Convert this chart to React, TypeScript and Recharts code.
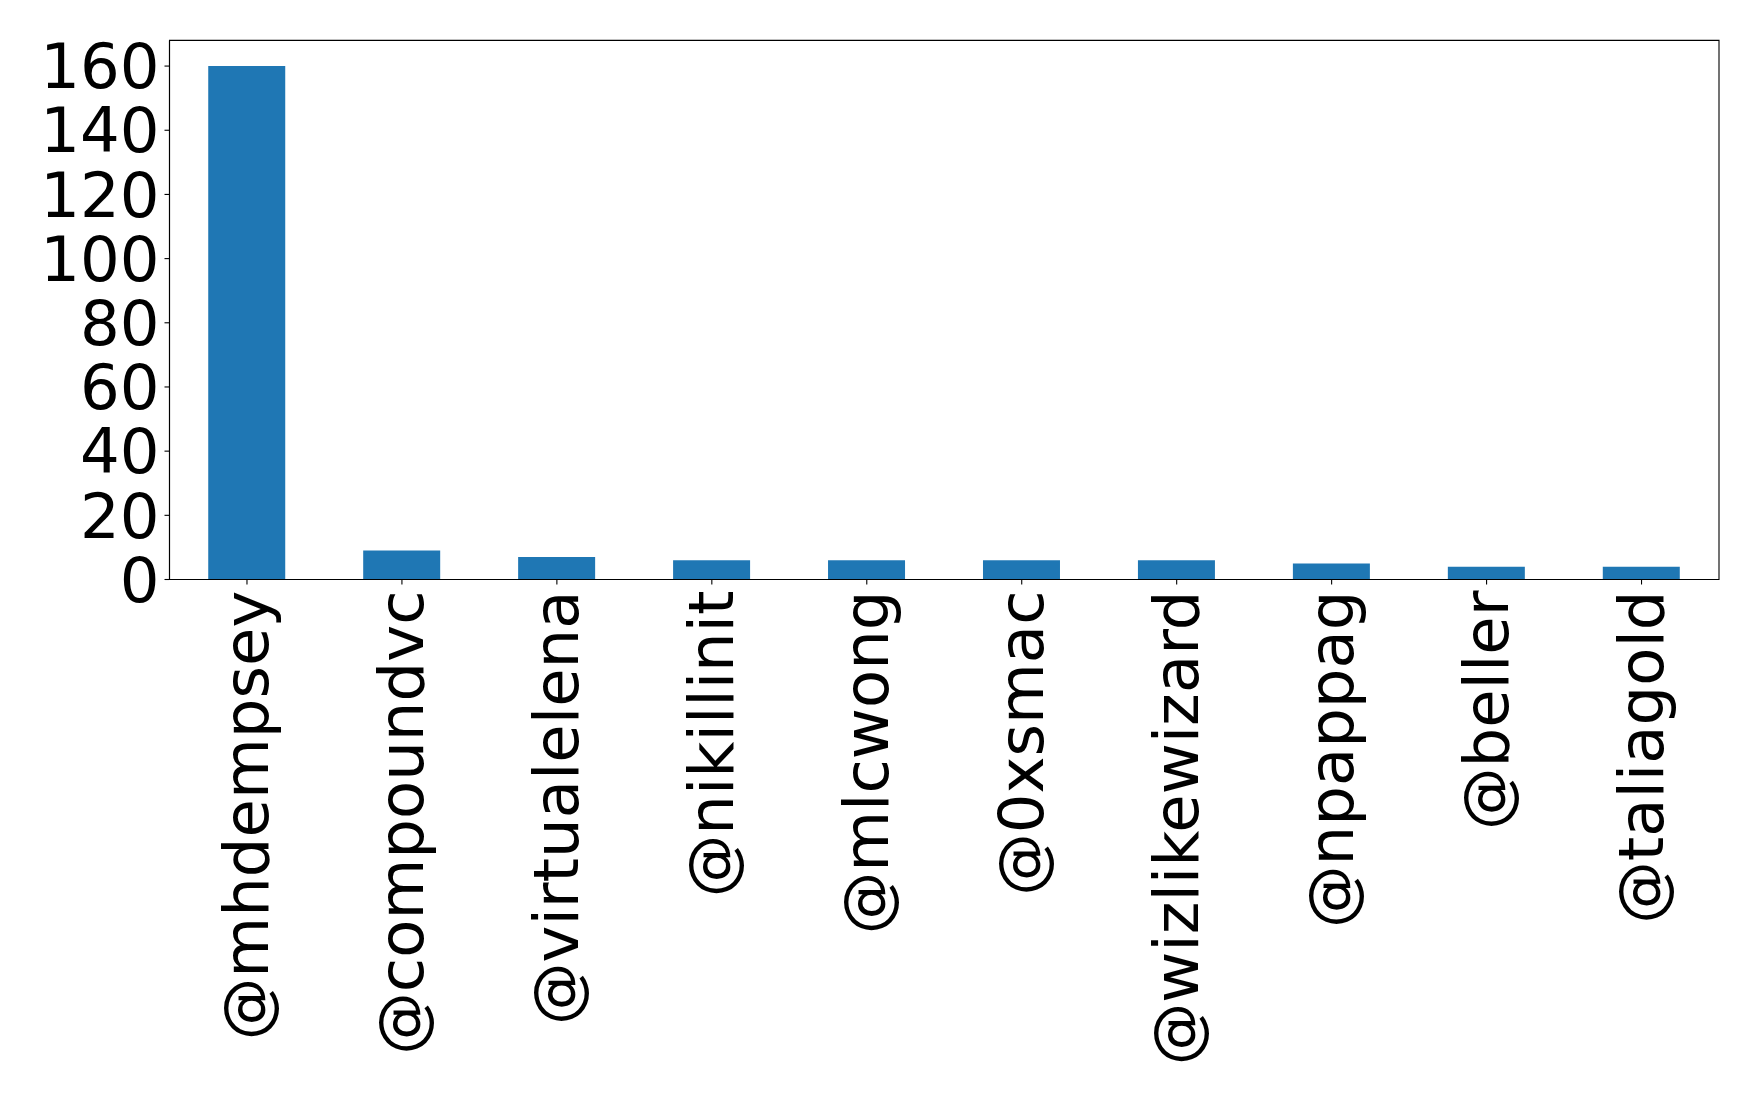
import React from 'react';
import { BarChart, Bar, XAxis, YAxis, ReferenceArea } from 'recharts';

const handles = [
  '@mhdempsey',
  '@compoundvc',
  '@virtualelena',
  '@nikillinit',
  '@mlcwong',
  '@0xsmac',
  '@wizlikewizard',
  '@npappag',
  '@beller',
  '@taliagold',
];
const counts = [160, 9, 7, 6, 6, 6, 6, 5, 4, 4];
const yTicks = [0, 20, 40, 60, 80, 100, 120, 140, 160];

const data = handles.map((handle, i) => ({ handle, count: counts[i] }));

const FONT = 'DejaVu Sans';
const FONT_SIZE = 62.5;

const XTick = (props: any) => {
  const { x, y, payload } = props;
  return (
    <text
      x={x}
      y={y}
      transform={`rotate(-90, ${x}, ${y})`}
      textAnchor="end"
      dominantBaseline="central"
      fontSize={FONT_SIZE}
      fontFamily={FONT}
      fill="#000"
    >
      {payload.value}
    </text>
  );
};

export default function App() {
  return (
    <div style={{ width: 1758, height: 1103, background: '#fff' }}>
      <style>{'body{margin:0;overflow:hidden;}'}</style>
      <BarChart
        width={1758}
        height={1103}
        data={data}
        margin={{ top: 40.4, right: 39, bottom: 43.5, left: 0 }}
        barCategoryGap="25%"
      >
        <XAxis
          dataKey="handle"
          height={480}
          interval={0}
          tick={<XTick />}
          tickSize={5}
          tickMargin={6}
          tickLine={{ stroke: '#000', strokeWidth: 1.1 }}
          axisLine={{ stroke: '#000', strokeWidth: 1.1 }}
        />
        <YAxis
          width={169.5}
          domain={[0, 168]}
          ticks={yTicks}
          interval={0}
          tickSize={5}
          tickMargin={5}
          tick={{ fontSize: FONT_SIZE, fontFamily: FONT, fill: '#000' }}
          tickLine={{ stroke: '#000', strokeWidth: 1.1 }}
          axisLine={{ stroke: '#000', strokeWidth: 1.1 }}
        />
        <Bar dataKey="count" fill="#1f77b4" isAnimationActive={false} />
        <ReferenceArea
          x1={handles[0]}
          x2={handles[handles.length - 1]}
          y1={0}
          y2={168}
          fill="none"
          fillOpacity={0}
          stroke="#000"
          strokeWidth={1.1}
        />
      </BarChart>
    </div>
  );
}
